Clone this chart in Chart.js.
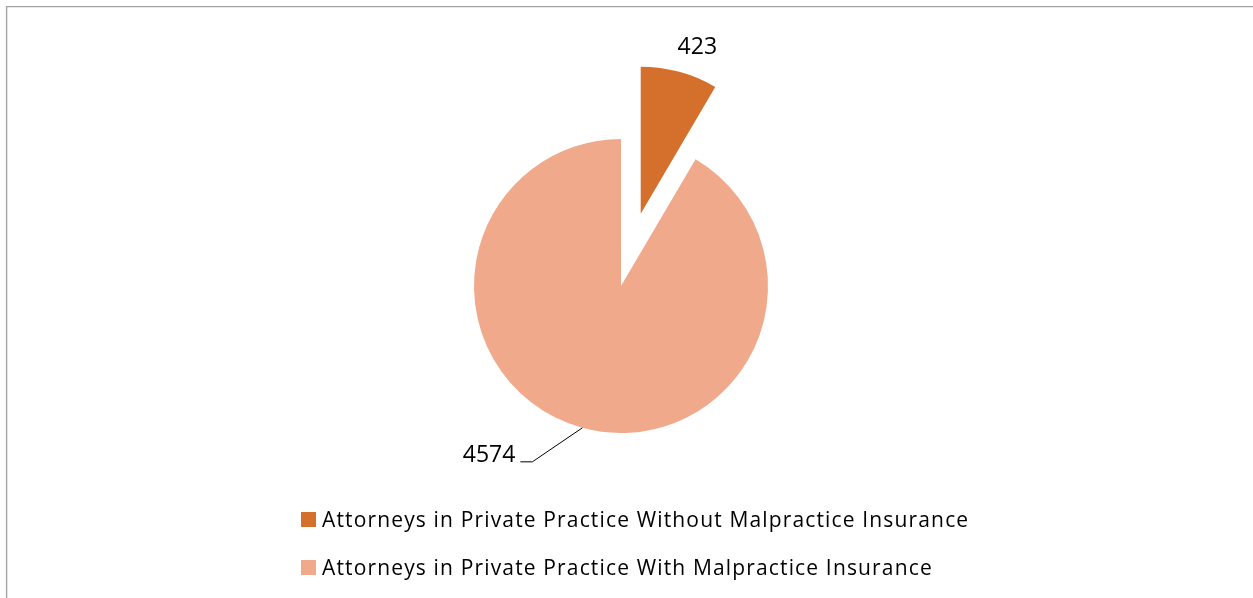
<!DOCTYPE html>
<html><head><meta charset="utf-8">
<script src="https://cdn.jsdelivr.net/npm/chart.js@4.4.0/dist/chart.umd.min.js"></script>
<style>html,body{margin:0;padding:0;background:#fff;overflow:hidden}canvas{display:block}</style>
</head><body>
<canvas id="c" width="1253" height="598"></canvas>
<script>
const categories = [
  "Attorneys in Private Practice Without Malpractice Insurance",
  "Attorneys in Private Practice With Malpractice Insurance"
];
const values = [423, 4574];
const colors = ["#D46F2C", "#F1A98B"];
const explode = [75, 0];
const FONT = '"Open Sans", sans-serif';

const explodePlugin = {
  id: 'explodeSlices',
  afterDatasetsUpdate(chart) {
    const meta = chart.getDatasetMeta(0);
    meta.data.forEach((arc, i) => {
      const d = explode[i] || 0;
      if (!d) return;
      const mid = (arc.startAngle + arc.endAngle) / 2;
      arc.x += Math.cos(mid) * d;
      arc.y += Math.sin(mid) * d;
    });
  }
};

const framePlugin = {
  id: 'frame',
  beforeDraw(chart) {
    const ctx = chart.ctx;
    ctx.save();
    ctx.strokeStyle = '#a3a3a3';
    ctx.lineWidth = 1.4;
    ctx.beginPath();
    ctx.moveTo(6.6, chart.height + 2);
    ctx.lineTo(6.6, 6.6);
    ctx.lineTo(chart.width + 2, 6.6);
    ctx.stroke();
    ctx.restore();
  }
};

const labelPlugin = {
  id: 'labelsLegend',
  afterDraw(chart) {
    const ctx = chart.ctx;
    const meta = chart.getDatasetMeta(0);
    ctx.save();
    ctx.fillStyle = '#000';
    ctx.font = '23px ' + FONT;
    ctx.textBaseline = 'alphabetic';
    // label for exploded slice
    const a0 = meta.data[0];
    const m0 = (a0.startAngle + a0.endAngle) / 2;
    const p0x = a0.x + Math.cos(m0) * a0.outerRadius;
    const p0y = a0.y + Math.sin(m0) * a0.outerRadius;
    ctx.textAlign = 'center';
    ctx.fillText(String(values[0]), p0x + 18, p0y - 18);
    // label for large slice with leader line
    const a1 = meta.data[1];
    const m1 = (a1.startAngle + a1.endAngle) / 2;
    const p1x = a1.x + Math.cos(m1) * a1.outerRadius;
    const p1y = a1.y + Math.sin(m1) * a1.outerRadius;
    ctx.strokeStyle = '#000';
    ctx.lineWidth = 1;
    ctx.beginPath();
    ctx.moveTo(p1x, p1y);
    ctx.lineTo(p1x - 50, p1y + 34);
    ctx.lineTo(p1x - 62, p1y + 34);
    ctx.stroke();
    ctx.textAlign = 'right';
    ctx.fillText(String(values[1]), p1x - 67, p1y + 34);
    // legend
    ctx.textAlign = 'left';
    ctx.font = '21px ' + FONT;
    if ('letterSpacing' in ctx) ctx.letterSpacing = '1.15px';
    const rows = [527, 575];
    categories.forEach((name, i) => {
      ctx.fillStyle = colors[i];
      ctx.fillRect(301, rows[i] - 15, 15, 15);
      ctx.fillStyle = '#000';
      ctx.fillText(name, 322, rows[i]);
    });
    ctx.restore();
  }
};

new Chart(document.getElementById('c'), {
  type: 'pie',
  data: {
    labels: categories,
    datasets: [{
      data: values,
      backgroundColor: colors,
      borderWidth: 0
    }]
  },
  options: {
    responsive: false,
    animation: false,
    events: [],
    devicePixelRatio: 1,
    radius: 147,
    layout: { padding: { left: 0, right: 11, top: 0, bottom: 26 } },
    plugins: {
      legend: { display: false },
      tooltip: { enabled: false }
    }
  },
  plugins: [framePlugin, explodePlugin, labelPlugin]
});
</script>
</body></html>
